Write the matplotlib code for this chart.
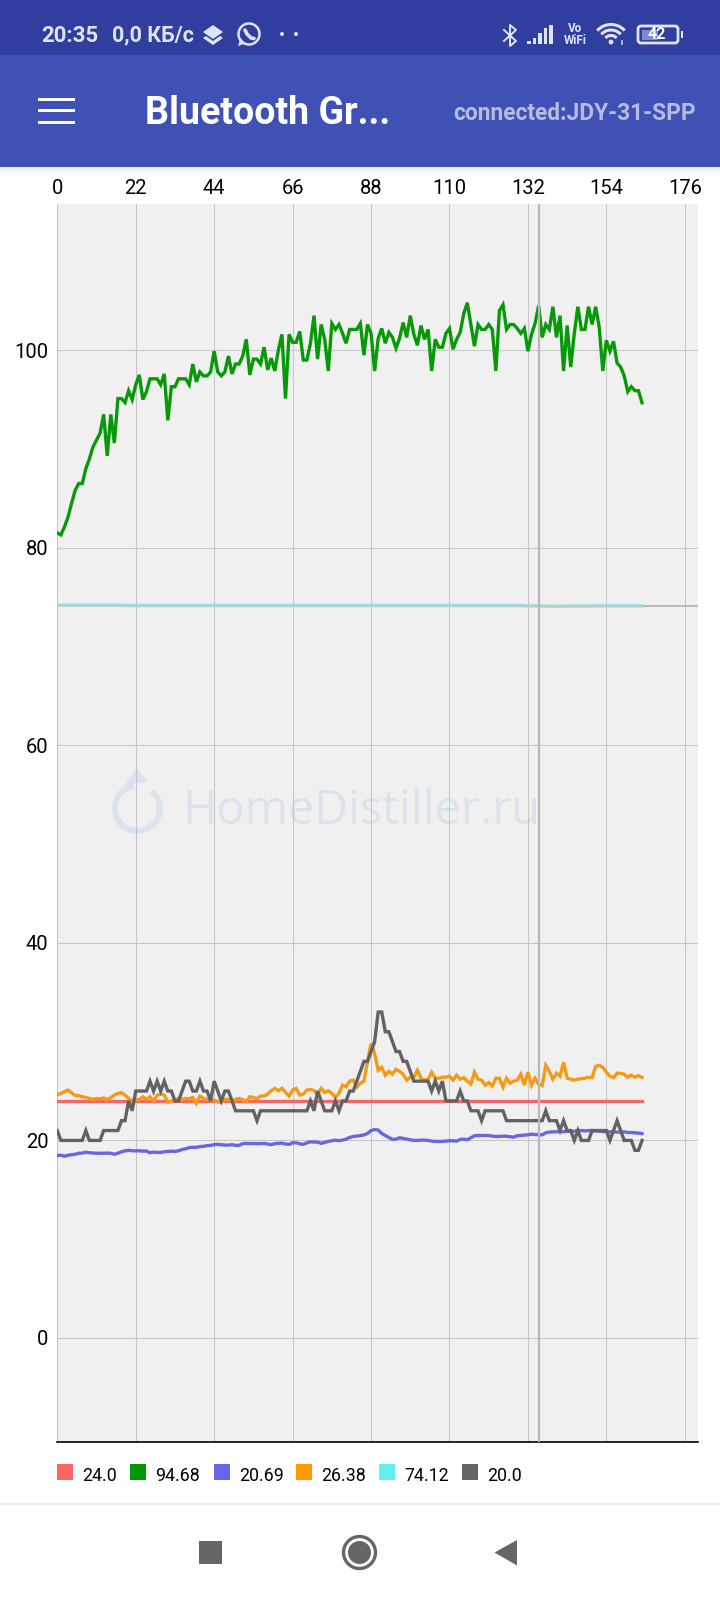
import numpy as np
import matplotlib
matplotlib.use('Agg')
import matplotlib.pyplot as plt
from matplotlib.patches import Rectangle, Circle, Polygon, Arc, Wedge, FancyBboxPatch

plt.rcParams['font.family'] = ['Roboto', 'DejaVu Sans']

x_ticks = [0, 22, 44, 66, 88, 110, 132, 154, 176]
y_ticks = [0, 20, 40, 60, 80, 100]
legend_labels = ['24.0', '94.68', '20.69', '26.38', '74.12', '20.0']
colors = ['#ff6666', '#009900', '#6666ee', '#ff9900', '#66eeee', '#666666']
line_colors = ['#ee6a6a', '#089908', '#6a66e0', '#f59a14', '#a8d6d4', '#626262']
cursor_x = 135
cursor_y = 74.12

red = [
    24.0, 24.0, 24.0, 24.0, 24.0, 24.0, 24.0, 24.0, 24.0, 24.0, 24.0, 24.0, 24.0, 24.0, 24.0,
    24.0, 24.0, 24.0, 24.0, 24.0, 24.0, 24.0, 24.0, 24.0, 24.0, 24.0, 24.0, 24.0, 24.0, 24.0,
    24.0, 24.0, 24.0, 24.0, 24.0, 24.0, 24.0, 24.0, 24.0, 24.0, 24.0, 24.0, 24.0, 24.0, 24.0,
    24.0, 24.0, 24.0, 24.0, 24.0, 24.0, 24.0, 24.0, 24.0, 24.0, 24.0, 24.0, 24.0, 24.0, 24.0,
    24.0, 24.0, 24.0, 24.0, 24.0, 24.0, 24.0, 24.0, 24.0, 24.0, 24.0, 24.0, 24.0, 24.0, 24.0,
    24.0, 24.0, 24.0, 24.0, 24.0, 24.0, 24.0, 24.0, 24.0, 24.0, 24.0, 24.0, 24.0, 24.0, 24.0,
    24.0, 24.0, 24.0, 24.0, 24.0, 24.0, 24.0, 24.0, 24.0, 24.0, 24.0, 24.0, 24.0, 24.0, 24.0,
    24.0, 24.0, 24.0, 24.0, 24.0, 24.0, 24.0, 24.0, 24.0, 24.0, 24.0, 24.0, 24.0, 24.0, 24.0,
    24.0, 24.0, 24.0, 24.0, 24.0, 24.0, 24.0, 24.0, 24.0, 24.0, 24.0, 24.0, 24.0, 24.0, 24.0,
    24.0, 24.0, 24.0, 24.0, 24.0, 24.0, 24.0, 24.0, 24.0, 24.0, 24.0, 24.0, 24.0, 24.0, 24.0,
    24.0, 24.0, 24.0, 24.0, 24.0, 24.0, 24.0, 24.0, 24.0, 24.0, 24.0, 24.0, 24.0, 24.0, 24.0,
]

green = [
    81.5, 81.3, 82.1, 83.1, 84.5, 85.8, 86.5, 86.5, 88.0, 89.0, 90.2, 90.9, 91.6, 93.5, 89.3,
    93.5, 90.6, 95.1, 95.1, 94.7, 95.9, 95.0, 96.5, 97.5, 95.0, 95.8, 97.1, 97.1, 97.1, 96.5,
    97.6, 92.9, 96.3, 96.3, 97.1, 97.1, 97.1, 96.5, 98.6, 96.8, 97.8, 97.4, 97.4, 97.8, 99.9,
    97.8, 97.4, 97.8, 99.4, 97.6, 98.6, 98.6, 99.4, 101.1, 97.5, 99.1, 99.1, 98.6, 100.3, 98.0,
    99.2, 97.9, 100.0, 101.6, 95.1, 101.6, 100.8, 100.8, 101.9, 99.0, 99.0, 100.7, 103.5, 99.1, 102.6,
    101.1, 97.9, 102.7, 102.1, 102.6, 101.7, 100.7, 102.1, 102.1, 102.1, 102.7, 99.5, 102.6, 101.7, 97.9,
    101.2, 102.2, 100.7, 101.8, 101.3, 100.2, 101.2, 102.8, 101.3, 103.5, 101.6, 100.5, 102.5, 101.1, 102.1,
    97.9, 101.1, 100.3, 100.3, 101.7, 102.2, 100.1, 101.1, 101.8, 103.7, 104.8, 102.6, 100.4, 102.6, 102.1,
    102.1, 102.6, 102.1, 97.9, 104.0, 104.6, 102.1, 102.6, 102.6, 102.2, 101.7, 102.2, 99.9, 101.6, 102.7,
    104.5, 101.3, 102.6, 102.1, 104.4, 101.3, 103.5, 97.9, 102.5, 98.3, 101.7, 104.4, 102.1, 102.1, 104.4,
    102.6, 104.4, 102.3, 97.9, 101.0, 99.9, 100.9, 98.7, 98.3, 97.4, 95.8, 96.3, 95.9, 95.9, 94.68,
]

blue = [
    18.48, 18.5, 18.4, 18.5, 18.55, 18.6, 18.7, 18.72, 18.8, 18.75, 18.72, 18.7, 18.7, 18.7, 18.72,
    18.7, 18.6, 18.7, 18.85, 18.95, 19.0, 18.95, 18.95, 18.95, 18.92, 18.92, 18.75, 18.82, 18.78, 18.78,
    18.85, 18.88, 18.92, 18.88, 18.95, 19.08, 19.15, 19.28, 19.3, 19.3, 19.38, 19.4, 19.47, 19.5, 19.57,
    19.6, 19.57, 19.53, 19.53, 19.57, 19.5, 19.5, 19.67, 19.7, 19.67, 19.7, 19.67, 19.67, 19.7, 19.63,
    19.57, 19.67, 19.7, 19.73, 19.63, 19.6, 19.76, 19.76, 19.66, 19.6, 19.76, 19.86, 19.83, 19.83, 19.7,
    19.8, 19.9, 19.97, 20.03, 19.97, 20.03, 20.13, 20.3, 20.4, 20.43, 20.5, 20.55, 20.7, 21.0, 21.1,
    21.05, 20.7, 20.5, 20.3, 20.1, 20.13, 20.27, 20.2, 20.13, 20.07, 20.0, 20.0, 20.03, 20.03, 20.0,
    19.93, 19.9, 19.9, 19.9, 19.93, 19.97, 19.97, 19.93, 20.1, 20.13, 20.07, 20.27, 20.47, 20.5, 20.5,
    20.5, 20.5, 20.43, 20.4, 20.4, 20.43, 20.43, 20.37, 20.33, 20.47, 20.5, 20.53, 20.57, 20.63, 20.6,
    20.57, 20.57, 20.77, 20.84, 20.87, 20.87, 20.9, 20.87, 20.94, 20.9, 20.94, 21.0, 21.0, 20.97, 21.0,
    21.0, 20.97, 20.94, 20.9, 20.87, 20.87, 20.87, 20.84, 20.84, 20.87, 20.8, 20.8, 20.77, 20.74, 20.69,
]

orange = [
    24.62, 24.76, 24.93, 25.1, 24.83, 24.56, 24.52, 24.42, 24.35, 24.25, 24.15, 24.25, 24.22, 24.29, 24.15,
    24.32, 24.59, 24.76, 24.83, 24.59, 24.25, 24.0, 24.08, 24.15, 24.42, 24.15, 24.42, 23.98, 24.59, 24.69,
    24.59, 23.85, 23.98, 24.08, 24.25, 24.15, 24.25, 24.22, 24.35, 23.75, 24.49, 24.25, 24.15, 24.08, 24.08,
    23.92, 23.85, 24.15, 24.15, 23.98, 24.15, 24.25, 24.15, 23.92, 24.42, 24.35, 24.22, 24.49, 24.49, 24.69,
    25.03, 25.27, 25.03, 25.27, 24.86, 24.49, 25.1, 25.27, 24.59, 24.69, 25.1, 25.17, 25.03, 24.69, 25.27,
    24.86, 25.03, 24.76, 24.35, 24.76, 25.6, 25.44, 26.0, 26.1, 25.4, 25.8, 26.0, 28.0, 29.8, 28.8,
    27.1, 27.4, 26.6, 27.0, 26.7, 27.2, 27.0, 26.7, 26.1, 26.4, 26.4, 27.1, 26.3, 26.1, 26.2,
    26.9, 26.3, 26.3, 26.4, 26.4, 26.5, 26.1, 26.6, 26.2, 26.35, 26.0, 25.7, 26.9, 26.2, 26.1,
    25.6, 25.85, 25.5, 26.3, 26.3, 25.4, 26.3, 25.8, 26.0, 26.1, 26.7, 25.6, 26.9, 25.6, 26.3,
    25.7, 25.55, 27.6, 27.0, 26.2, 26.8, 26.5, 27.9, 26.3, 26.2, 26.1, 26.2, 26.25, 26.3, 26.4,
    26.35, 27.5, 27.6, 27.4, 26.9, 26.5, 26.35, 26.8, 26.8, 26.7, 26.4, 26.6, 26.4, 26.55, 26.38,
]

cyan = [
    74.18, 74.18, 74.18, 74.18, 74.18, 74.18, 74.18, 74.18, 74.18, 74.18, 74.18, 74.18, 74.18, 74.18, 74.18,
    74.18, 74.18, 74.18, 74.18, 74.18, 74.15, 74.15, 74.15, 74.15, 74.15, 74.15, 74.15, 74.15, 74.15, 74.15,
    74.15, 74.15, 74.15, 74.15, 74.15, 74.15, 74.15, 74.15, 74.15, 74.15, 74.15, 74.15, 74.15, 74.15, 74.15,
    74.15, 74.15, 74.15, 74.15, 74.15, 74.15, 74.15, 74.15, 74.15, 74.15, 74.15, 74.15, 74.15, 74.15, 74.15,
    74.15, 74.15, 74.15, 74.15, 74.15, 74.15, 74.15, 74.15, 74.15, 74.15, 74.15, 74.15, 74.15, 74.15, 74.15,
    74.15, 74.15, 74.15, 74.15, 74.15, 74.15, 74.15, 74.15, 74.15, 74.15, 74.15, 74.15, 74.15, 74.15, 74.15,
    74.15, 74.15, 74.15, 74.15, 74.15, 74.15, 74.15, 74.15, 74.15, 74.15, 74.15, 74.15, 74.15, 74.15, 74.15,
    74.15, 74.15, 74.15, 74.15, 74.15, 74.15, 74.15, 74.15, 74.15, 74.15, 74.15, 74.15, 74.15, 74.15, 74.15,
    74.15, 74.15, 74.15, 74.15, 74.15, 74.15, 74.15, 74.15, 74.15, 74.15, 74.15, 74.12, 74.12, 74.12, 74.12,
    74.1, 74.1, 74.08, 74.08, 74.08, 74.08, 74.08, 74.08, 74.1, 74.1, 74.1, 74.1, 74.1, 74.1, 74.1,
    74.12, 74.12, 74.12, 74.12, 74.12, 74.12, 74.12, 74.12, 74.12, 74.12, 74.12, 74.12, 74.12, 74.12, 74.12,
]

gray = [
    21, 20, 20, 20, 20, 20, 20, 20, 21, 20, 20, 20, 20, 21, 21,
    21, 21, 21, 22, 22, 24, 23, 25, 25, 25, 25, 26, 25, 26, 25,
    26, 25, 25, 24, 24, 25, 26, 26, 25, 25, 26, 25, 25, 24, 26,
    25, 24, 25, 25, 24, 23, 23, 23, 23, 23, 23, 22, 23, 23, 23,
    23, 23, 23, 23, 23, 23, 23, 23, 23, 23, 23, 24, 23, 25, 24,
    23, 23, 23, 24, 23, 24, 24, 25, 25, 26, 27, 28, 28, 29, 30,
    33, 33, 31, 31, 30, 29, 29, 28, 28, 27, 26, 26, 26, 26, 26,
    25, 26, 25, 26, 24, 24, 24, 24, 25, 24, 24, 23, 23, 23, 22,
    23, 23, 23, 23, 23, 23, 22, 22, 22, 22, 22, 22, 22, 22, 22,
    22, 22, 23, 22, 22, 22, 21, 22, 21, 21, 20, 21, 20, 20, 20,
    21, 21, 21, 21, 21, 20, 21, 22, 21, 20, 20, 20, 19, 19, 20,
]

series = [red, green, blue, orange, cyan, gray]

W, H = 720, 1600
fig = plt.figure(figsize=(W / 100, H / 100), dpi=100, facecolor='white')

# phone screen chrome, drawn in pixel coordinates
bg = fig.add_axes([0, 0, 1, 1], zorder=0)
bg.set_xlim(0, W)
bg.set_ylim(H, 0)
bg.axis('off')

bg.add_patch(Rectangle((0, 0), W, 55, fc='#303f9f', ec='none'))
bg.add_patch(Rectangle((0, 55), W, 112, fc='#3f51b5', ec='none'))
for i in range(7):
    bg.add_patch(Rectangle((0, 167 + i), W, 1, fc='black', ec='none', alpha=0.07 * (1 - i / 7)))

light = '#dfe3f6'
bg.text(41, 35.5, '20:35', color=light, fontsize=16, fontweight='bold', va='center', ha='left')
bg.text(112.5, 35.5, '0,0 КБ/с', color=light, fontsize=15.5, fontweight='bold', va='center', ha='left')

# layers icon
bg.add_patch(Polygon([[203, 32], [213, 25], [223, 32], [213, 39]], fc=light, ec='none'))
bg.add_patch(Polygon([[203, 38], [206, 36], [213, 41], [220, 36], [223, 38], [213, 45]], fc=light, ec='none'))
# whatsapp icon
bg.add_patch(Circle((249, 34), 10.5, fc='none', ec=light, lw=1.8))
bg.add_patch(Polygon([[238, 46], [240.5, 38], [245, 43.5]], fc=light, ec='none'))
bg.plot([245, 247, 251, 254], [30, 34, 38, 38.5], color=light, lw=2.6, solid_capstyle='round')
bg.add_patch(Circle((282, 34), 2, fc=light, ec='none'))
bg.add_patch(Circle((296, 34), 2, fc=light, ec='none'))

# bluetooth
bg.plot([504, 516, 510, 510, 516, 504], [30, 41, 46, 25, 30, 41], color=light, lw=1.4)
# signal bars
for bx, top in zip([527, 532.5, 538, 543.5, 549], [41, 38, 33, 28, 25]):
    bg.add_patch(Rectangle((bx, top), 3.8, 44 - top, fc=light, ec='none'))
bg.text(575, 29, 'Vo', color=light, fontsize=8.5, fontweight='bold', ha='center', va='center')
bg.text(575.5, 41, 'WiFi', color=light, fontsize=8.5, fontweight='bold', ha='center', va='center')
# wifi
for r in [7.5, 13, 18.5]:
    bg.add_patch(Arc((611, 43), 2 * r, 2 * r, theta1=222, theta2=318, ec=light, lw=2.2))
bg.add_patch(Circle((611, 42), 2.4, fc=light, ec='none'))
bg.add_patch(Rectangle((621, 40), 1.5, 5, fc='#aab2e0', ec='none'))
# battery
bg.add_patch(Rectangle((642, 29.5), 16, 10.5, fc='#7f8ad0', ec='none'))
bg.add_patch(FancyBboxPatch((638, 26), 40, 17, boxstyle='round,pad=0,rounding_size=3', fc='none', ec=light, lw=2))
bg.add_patch(Rectangle((680.5, 31), 2.5, 7, fc=light, ec='none'))
bg.text(657, 34.5, '42', color='white', fontsize=11.5, fontweight='bold', ha='center', va='center')

# app bar
for hy in [99, 110.5, 122]:
    bg.add_patch(Rectangle((37.5, hy - 1.5), 37, 3, fc='white', ec='none'))
bg.text(145, 114, 'Bluetooth Gr...', color='white', fontsize=27, fontweight='bold', va='center', ha='left')
bg.text(696, 113, 'connected:JDY-31-SPP', color='#b4bce0', fontsize=16.4, fontweight='bold', va='center', ha='right')

# legend
leg_sq_x = [57, 130, 213.5, 296, 379, 461.5]
leg_txt_x = [82.5, 155.5, 239, 321, 404, 487]
for sq, tx, col, lab in zip(leg_sq_x, leg_txt_x, colors, legend_labels):
    bg.add_patch(Rectangle((sq, 1464), 16, 16, fc=col, ec='none'))
    bg.text(tx, 1476, lab, color='black', fontsize=12.8, va='center', ha='left')

# nav bar
bg.plot([0, W], [1504, 1504], color='#e6e6e6', lw=1.2)
nav = '#666666'
bg.add_patch(Rectangle((198.5, 1540.5), 23.5, 23.5, fc=nav, ec='none'))
bg.add_patch(Circle((359.5, 1552.5), 16, fc='none', ec=nav, lw=2.4))
bg.add_patch(Circle((359.5, 1552.5), 11.5, fc=nav, ec='none'))
bg.add_patch(Polygon([[494.5, 1552.5], [517, 1540], [517, 1565.5]], fc=nav, ec='none'))

# chart
left, right, top, bottom = 57.3, 698, 204, 1441.7
ax = fig.add_axes([left / W, 1 - bottom / H, (right - left) / W, (bottom - top) / H], zorder=1)
ax.set_facecolor('#f0f0f0')
ax.set_xlim(0, 179.7)
ax.set_ylim(-10.5, 114.8)
for name in ['left', 'right', 'top']:
    ax.spines[name].set_visible(False)
ax.spines['bottom'].set_color('black')
ax.spines['bottom'].set_linewidth(1.2)
ax.xaxis.tick_top()
ax.set_xticks(x_ticks)
ax.set_yticks(y_ticks)
ax.tick_params(axis='x', length=0, labelsize=14.5, pad=4.5, labelcolor='black')
ax.tick_params(axis='y', length=0, labelsize=14.5, pad=6.5, labelcolor='black')
ax.grid(True, color='#c6c6c6', lw=0.75)
ax.set_axisbelow(True)

for vals, col in zip(series, line_colors):
    ax.plot(np.arange(len(vals)), vals, color=col, lw=2.4, solid_joinstyle='miter', zorder=3)

# highlight crosshair, the horizontal one only shows past the end of the cyan line
ax.axvline(cursor_x, color='#b8b8b8', lw=1.6, zorder=4)
ax.axhline(cursor_y, color='#b8b8b8', lw=1.4, zorder=2.5)

# watermark on top of the grid, in pixel coordinates
wm = fig.add_axes([0, 0, 1, 1], zorder=2)
wm.set_xlim(0, W)
wm.set_ylim(H, 0)
wm.axis('off')
wm.patch.set_alpha(0)
wmc = '#a8c8e0'
wm.text(182, 811, 'HomeDistiller.ru', color=wmc, alpha=0.3, fontsize=33.7, family='Open Sans', va='center', ha='left')
wm.add_patch(Wedge((137.3, 808.3), 25.5, -50, 260, width=6, fc=wmc, ec='none', alpha=0.3))
wm.add_patch(Polygon([[136.7, 768], [125, 785], [148, 782]], fc=wmc, ec='none', alpha=0.3))

fig.savefig('out.png', dpi=100, facecolor='white')
